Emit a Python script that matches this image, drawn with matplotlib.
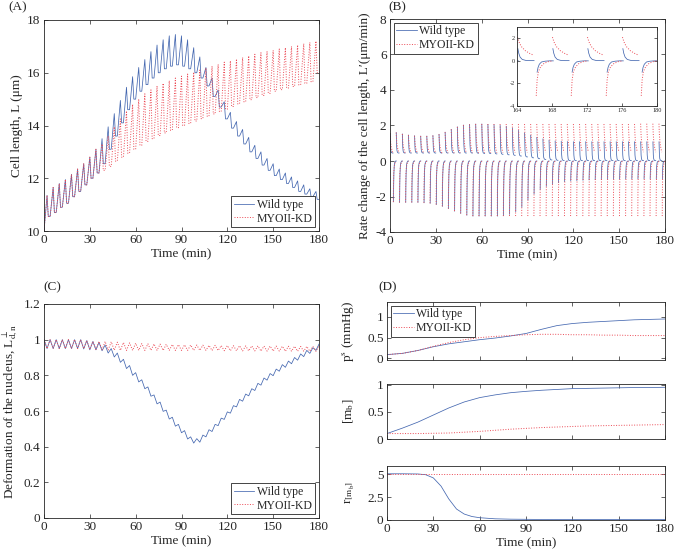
import numpy as np
import matplotlib
matplotlib.use("Agg")
import matplotlib.pyplot as plt
from matplotlib.ticker import FuncFormatter

plt.rcParams['font.family'] = ['Liberation Serif', 'DejaVu Serif']
plt.rcParams['mathtext.fontset'] = 'stix'
plt.rcParams['axes.linewidth'] = 0.6
plt.rcParams['axes.edgecolor'] = '#262626'
plt.rcParams['xtick.color'] = '#262626'
plt.rcParams['ytick.color'] = '#262626'
plt.rcParams['text.color'] = '#262626'
plt.rcParams['axes.labelcolor'] = '#262626'

# ------------------------------------------------------------------ data
period = 4.0            # oscillation period (min)
series_names = ["Wild type", "MYOII-KD"]

# (A) cell length L (um): troughs at t = 0,4,...,180 ; peaks at t = 2,6,...,178
len_wt_trough = [10.0, 10.55, 10.7, 10.9, 11.05, 11.3, 11.5, 11.75, 12.0, 12.2,
                 12.55, 13.1, 13.6, 14.1, 14.6, 15.0, 15.3, 15.55, 15.8, 16.0,
                 16.15, 16.25, 16.3, 16.25, 16.15, 16.0, 15.8, 15.5, 15.1, 14.7,
                 14.25, 13.9, 13.6, 13.3, 13.0, 12.75, 12.5, 12.3, 12.1, 11.95,
                 11.8, 11.65, 11.5, 11.4, 11.3, 11.2]
len_wt_peak = [11.35, 11.65, 11.8, 11.95, 12.15, 12.35, 12.55, 12.8, 13.1, 13.5,
               13.95, 14.45, 14.95, 15.45, 15.85, 16.2, 16.5, 16.8, 17.05, 17.25,
               17.4, 17.45, 17.4, 17.25, 16.95, 16.6, 16.2, 15.8, 15.35, 14.9,
               14.5, 14.15, 13.85, 13.55, 13.25, 13.0, 12.75, 12.55, 12.35, 12.2,
               12.05, 11.9, 11.75, 11.6, 11.5]
len_kd_trough = [10.0, 10.55, 10.7, 10.9, 11.05, 11.3, 11.5, 11.75, 12.0, 12.2,
                 12.3, 12.45, 12.65, 12.8, 12.95, 13.1, 13.25, 13.4, 13.5, 13.62,
                 13.72, 13.82, 13.92, 14.0, 14.08, 14.17, 14.26, 14.35, 14.44, 14.53,
                 14.62, 14.72, 14.82, 14.9, 14.98, 15.06, 15.14, 15.22, 15.3, 15.36,
                 15.42, 15.48, 15.54, 15.6, 15.66, 16.0]
len_kd_peak = [11.35, 11.65, 11.8, 11.95, 12.15, 12.35, 12.55, 12.8, 13.1, 13.3,
               13.6, 13.95, 14.25, 14.55, 14.8, 15.0, 15.2, 15.35, 15.5, 15.6,
               15.7, 15.8, 15.87, 15.95, 16.02, 16.1, 16.18, 16.25, 16.32, 16.4,
               16.45, 16.52, 16.58, 16.64, 16.7, 16.76, 16.8, 16.85, 16.9, 16.95,
               17.0, 17.05, 17.1, 17.15, 17.2]

# (B) rate of change L' (um/min), one value per cycle (cycles start at t = 0,4,...,176)
rate_wt_pos_peak = [1.55, 1.6, 1.52, 1.46, 1.42, 1.4, 1.4, 1.43, 1.5, 1.62,
                    1.78, 1.92, 2.02, 2.06, 2.08, 2.08, 2.06, 2.04, 2.0, 1.95,
                    1.85, 1.72, 1.58, 1.45, 1.33, 1.24, 1.17, 1.12, 1.1, 1.09,
                    1.08, 1.08, 1.08, 1.08, 1.08, 1.08, 1.08, 1.08, 1.08, 1.08,
                    1.08, 1.08, 1.08, 1.08, 1.08]
rate_wt_pos_end = [0.45, 0.45, 0.45, 0.45, 0.45, 0.45, 0.45, 0.45, 0.45, 0.45,
                   0.45, 0.45, 0.45, 0.45, 0.44, 0.43, 0.42, 0.4, 0.38, 0.35,
                   0.32, 0.28, 0.23, 0.18, 0.13, 0.09, 0.06, 0.04, 0.03, 0.02,
                   0.02, 0.02, 0.02, 0.02, 0.02, 0.02, 0.02, 0.02, 0.02, 0.02,
                   0.02, 0.02, 0.02, 0.02, 0.02]
rate_wt_neg_peak = [-2.3, -2.33, -2.33, -2.33, -2.33, -2.35, -2.38, -2.45, -2.55, -2.68,
                    -2.82, -2.95, -3.05, -3.1, -3.1, -3.1, -3.1, -3.1, -3.08, -3.0,
                    -2.85, -2.6, -2.2, -1.85, -1.6, -1.42, -1.3, -1.22, -1.16, -1.12,
                    -1.1, -1.08, -1.06, -1.05, -1.04, -1.03, -1.02, -1.02, -1.01, -1.01,
                    -1.0, -1.0, -1.0, -1.0, -1.0]
rate_kd_pos_peak = [1.55, 1.6, 1.52, 1.46, 1.42, 1.4, 1.4, 1.43, 1.5, 1.62,
                    1.78, 1.92, 2.02, 2.06, 2.08, 2.08, 2.08, 2.08, 2.08, 2.08,
                    2.08, 2.08, 2.08, 2.08, 2.08, 2.08, 2.08, 2.08, 2.08, 2.08,
                    2.08, 2.08, 2.08, 2.08, 2.08, 2.08, 2.08, 2.08, 2.08, 2.08,
                    2.08, 2.1, 2.1, 2.1, 2.1]
rate_kd_pos_end = [0.45, 0.45, 0.45, 0.45, 0.45, 0.45, 0.45, 0.45, 0.45, 0.45,
                   0.45, 0.45, 0.45, 0.45, 0.45, 0.46, 0.46, 0.46, 0.47, 0.47,
                   0.47, 0.48, 0.48, 0.48, 0.48, 0.49, 0.49, 0.49, 0.49, 0.5,
                   0.5, 0.5, 0.5, 0.5, 0.5, 0.5, 0.5, 0.5, 0.5, 0.5,
                   0.5, 0.5, 0.5, 0.5, 0.5]
rate_kd_neg_peak = [-2.3, -2.33, -2.33, -2.33, -2.33, -2.35, -2.38, -2.45, -2.55, -2.68,
                    -2.82, -2.95, -3.05, -3.1, -3.1, -3.1, -3.1, -3.1, -3.1, -3.1,
                    -3.1, -3.1, -3.1, -3.1, -3.1, -3.1, -3.1, -3.1, -3.1, -3.1,
                    -3.1, -3.1, -3.1, -3.1, -3.1, -3.1, -3.1, -3.1, -3.1, -3.1,
                    -3.1, -3.1, -3.1, -3.1, -3.1]
rate_neg_end = 0.0
# decay profile inside a half cycle: time offsets (min) and
# remaining fraction of the jump
seg_dt = [0.0, 0.1, 0.25, 0.5, 0.9, 1.4, 1.85]
frac_wt_pos = [1.0, 0.62, 0.3, 0.1, 0.02, 0.0, 0.0]
frac_kd_pos = [1.0, 0.85, 0.65, 0.45, 0.25, 0.1, 0.0]
frac_wt_neg = [1.0, 0.6, 0.3, 0.1, 0.03, 0.0, 0.0]
frac_kd_neg = [1.0, 0.55, 0.3, 0.17, 0.07, 0.02, 0.0]

# (C) nucleus deformation: highs at t = 0,4,...,180 ; lows at t = 2,6,...,178
def_wt_high = [1.0, 1.0, 1.0, 1.0, 1.0, 1.0, 1.0, 0.995, 0.99, 0.985,
               0.97, 0.95, 0.925, 0.89, 0.855, 0.815, 0.775, 0.735, 0.69, 0.65,
               0.605, 0.565, 0.525, 0.49, 0.455, 0.445, 0.465, 0.495, 0.525, 0.56,
               0.595, 0.63, 0.665, 0.695, 0.725, 0.755, 0.785, 0.81, 0.835, 0.86,
               0.88, 0.9, 0.92, 0.94, 0.955, 0.975]
def_wt_low = [0.95, 0.95, 0.95, 0.95, 0.95, 0.95, 0.948, 0.943, 0.943, 0.938,
              0.925, 0.903, 0.873, 0.838, 0.80, 0.763, 0.725, 0.683, 0.64, 0.598,
              0.555, 0.515, 0.478, 0.443, 0.42, 0.425, 0.455, 0.485, 0.518, 0.553,
              0.588, 0.623, 0.655, 0.685, 0.715, 0.745, 0.773, 0.798, 0.823, 0.845,
              0.865, 0.885, 0.905, 0.923, 0.94]
def_kd_high = [1.0, 1.0, 1.0, 1.0, 1.0, 1.0, 1.0, 0.995, 0.99, 0.99,
               0.99, 0.988, 0.986, 0.984, 0.982, 0.98, 0.978, 0.977, 0.976, 0.975,
               0.974, 0.973, 0.972, 0.971, 0.97, 0.97, 0.969, 0.968, 0.968, 0.967,
               0.967, 0.966, 0.966, 0.965, 0.965, 0.965, 0.964, 0.964, 0.964, 0.963,
               0.963, 0.963, 0.962, 0.962, 0.962, 0.962]
def_kd_low = [0.95, 0.95, 0.95, 0.95, 0.95, 0.95, 0.95, 0.945, 0.945, 0.943,
              0.942, 0.941, 0.94, 0.94, 0.94, 0.94, 0.94, 0.94, 0.94, 0.94,
              0.94, 0.94, 0.94, 0.94, 0.94, 0.94, 0.94, 0.939, 0.939, 0.938,
              0.938, 0.938, 0.937, 0.937, 0.937, 0.936, 0.936, 0.936, 0.936, 0.935,
              0.935, 0.935, 0.935, 0.935, 0.935]

# (D) slowly varying quantities
t_d = [0, 10, 20, 30, 40, 50, 60, 70, 80, 90, 100, 110, 120, 130, 140, 150, 160, 170, 180]
ps_wt = [0.09, 0.12, 0.19, 0.28, 0.35, 0.40, 0.45, 0.49, 0.54, 0.60,
         0.70, 0.79, 0.84, 0.87, 0.89, 0.91, 0.93, 0.94, 0.95]
ps_kd = [0.09, 0.12, 0.19, 0.29, 0.38, 0.45, 0.50, 0.53, 0.55, 0.57,
         0.58, 0.58, 0.57, 0.57, 0.56, 0.56, 0.55, 0.55, 0.55]
mb_wt = [0.1, 0.2, 0.31, 0.44, 0.57, 0.68, 0.76, 0.81, 0.85, 0.875,
         0.895, 0.91, 0.925, 0.93, 0.935, 0.94, 0.945, 0.945, 0.95]
mb_kd = [0.1, 0.1, 0.1, 0.105, 0.11, 0.125, 0.14, 0.16, 0.18, 0.195,
         0.21, 0.22, 0.23, 0.24, 0.245, 0.25, 0.255, 0.26, 0.265]
t_r = [0, 10, 20, 25, 30, 35, 40, 45, 50, 55, 60, 70, 80, 100, 120, 150, 180]
r_wt = [5.05, 5.05, 5.03, 4.95, 4.6, 3.7, 2.3, 1.2, 0.65, 0.38,
        0.25, 0.13, 0.09, 0.06, 0.05, 0.05, 0.05]
r_kd = [5.05, 5.05, 5.05, 5.05, 5.05, 5.05, 5.05, 5.05, 5.05, 5.05,
        5.05, 5.05, 5.05, 5.05, 5.05, 5.05, 5.05]

# ------------------------------------------------------------------ helpers
C_WT = '#4467b0'
C_KD = '#eb4a55'
LW_WT = 0.55
LW_KD = 0.7
FS = 9.5
FS_LEG = 8.5


def sawtooth(trough, peak):
    t, y = [], []
    for k in range(len(peak)):
        t0 = k * period
        t += [t0, t0 + period / 2, t0 + 0.7 * period]
        y += [trough[k], peak[k], trough[k + 1]]
    t.append(len(peak) * period)
    y.append(trough[-1])
    return np.array(t), np.array(y)


def zigzag(high, low):
    t, y = [], []
    for k in range(len(low)):
        t += [k * period, k * period + period / 2]
        y += [high[k], low[k]]
    t.append(len(low) * period)
    y.append(high[-1])
    return np.array(t), np.array(y)


def spikes(pos_peak, pos_end, neg_peak, fpos, fneg, shift_pos, shift_neg):
    t, y = [], []
    for k in range(len(pos_peak)):
        t0 = k * period
        for dt, f in zip(seg_dt, fpos):
            t.append(t0 + shift_pos + dt)
            y.append(pos_end[k] + (pos_peak[k] - pos_end[k]) * f)
        t.append(np.nan); y.append(np.nan)
        for dt, f in zip(seg_dt, fneg):
            t.append(t0 + period / 2 + shift_neg + dt)
            y.append(rate_neg_end + (neg_peak[k] - rate_neg_end) * f)
        t.append(np.nan); y.append(np.nan)
    return np.array(t), np.array(y)


def gfmt(v, pos):
    return '%g' % v


def style(ax, fs=FS, length=3):
    ax.tick_params(direction='in', top=True, right=True, labelsize=fs,
                   length=length, width=0.5, pad=2.5)
    ax.yaxis.set_major_formatter(FuncFormatter(gfmt))
    ax.xaxis.set_major_formatter(FuncFormatter(gfmt))


def legend(ax, loc, fs=FS_LEG):
    lg = ax.legend(loc=loc, fontsize=fs, frameon=True, fancybox=False,
                   edgecolor='#262626', framealpha=1, borderpad=0.25,
                   labelspacing=0.15, handlelength=1.7, handletextpad=0.2,
                   borderaxespad=0.3)
    lg.get_frame().set_linewidth(0.6)
    return lg


W, H = 676, 555
fig = plt.figure(figsize=(W / 100, H / 100), dpi=100)


def axes_px(l, t, r, b):
    return fig.add_axes([l / W, 1 - b / H, (r - l) / W, (b - t) / H])


xt = [0, 30, 60, 90, 120, 150, 180]

# ---------------- (A)
axA = axes_px(44, 20, 319, 231)
tA, yA = sawtooth(len_wt_trough, len_wt_peak)
axA.plot(tA, yA, color=C_WT, lw=LW_WT, label=series_names[0])
tA2, yA2 = sawtooth(len_kd_trough, len_kd_peak)
axA.plot(tA2, yA2, color=C_KD, lw=LW_KD, ls=':', label=series_names[1])
axA.set_xlim(0, 180); axA.set_ylim(10, 18)
axA.set_xticks(xt); axA.set_yticks([10, 12, 14, 16, 18])
style(axA)
axA.set_xlabel('Time (min)', fontsize=FS, labelpad=1)
axA.set_ylabel('Cell length, L (\u03bcm)', fontsize=FS, labelpad=3)
legend(axA, 'lower right')
fig.text(8 / W, 1 - 7 / H, '(A)', fontsize=FS, va='center', ha='left')

# ---------------- (B)
axB = axes_px(390, 19, 665, 232)
tB, yB = spikes(rate_wt_pos_peak, rate_wt_pos_end, rate_wt_neg_peak,
                frac_wt_pos, frac_wt_neg, 0.1, 0.3)
tB2, yB2 = spikes(rate_kd_pos_peak, rate_kd_pos_end, rate_kd_neg_peak,
                  frac_kd_pos, frac_kd_neg, 0.05, 0.2)
axB.plot(tB, yB, color=C_WT, lw=LW_WT, label=series_names[0])
axB.plot(tB2, yB2, color=C_KD, lw=LW_KD, ls=':', label=series_names[1])
axB.set_xlim(0, 180); axB.set_ylim(-4, 8)
axB.set_xticks(xt); axB.set_yticks([-4, -2, 0, 2, 4, 6, 8])
style(axB)
axB.set_xlabel('Time (min)', fontsize=FS, labelpad=1)
axB.set_ylabel('Rate change of the cell length, L\u2032(\u03bcm/min)', fontsize=FS, labelpad=3)
legend(axB, 'upper left')
fig.text(388 / W, 1 - 7 / H, '(B)', fontsize=FS, va='center', ha='left')

# inset
axI = axes_px(517, 27, 657, 106)
axI.plot(tB, yB, color=C_WT, lw=LW_WT)
axI.plot(tB2, yB2, color=C_KD, lw=LW_KD, ls=':')
axI.set_xlim(164, 180); axI.set_ylim(-4, 3)
axI.set_xticks([164, 168, 172, 176, 180]); axI.set_yticks([-4, -2, 0, 2])
style(axI, fs=4.5, length=2)
axI.tick_params(pad=1.5)

# ---------------- (C)
axC = axes_px(44, 304, 319, 518)
tC, yC = zigzag(def_wt_high, def_wt_low)
axC.plot(tC, yC, color=C_WT, lw=LW_WT, label=series_names[0])
tC2, yC2 = zigzag(def_kd_high, def_kd_low)
axC.plot(tC2, yC2, color=C_KD, lw=LW_KD, ls=':', label=series_names[1])
axC.set_xlim(0, 180); axC.set_ylim(0, 1.2)
axC.set_xticks(xt); axC.set_yticks([0, 0.2, 0.4, 0.6, 0.8, 1.0, 1.2])
style(axC)
axC.set_xlabel('Time (min)', fontsize=FS, labelpad=1)
axC.set_ylabel('Deformation of the nucleus, L$^{\\perp}_{\\mathrm{d,n}}$', fontsize=FS, labelpad=3)
legend(axC, 'lower right')
fig.text(43 / W, 1 - 287 / H, '(C)', fontsize=FS, va='center', ha='left')

# ---------------- (D)
axD1 = axes_px(387, 302, 665, 360)
axD1.plot(t_d, ps_wt, color=C_WT, lw=LW_WT, label=series_names[0])
axD1.plot(t_d, ps_kd, color=C_KD, lw=LW_KD, ls=':', label=series_names[1])
axD1.set_xlim(0, 180); axD1.set_ylim(-0.04, 1.36)
axD1.set_xticks(xt); axD1.set_yticks([0, 0.5, 1])
style(axD1)
axD1.tick_params(labelbottom=False)
axD1.set_ylabel('p$^{\\mathrm{s}}$ (mmHg)', fontsize=FS, labelpad=3)
legend(axD1, 'upper left')

axD2 = axes_px(387, 384, 665, 439)
axD2.plot(t_d, mb_wt, color=C_WT, lw=LW_WT)
axD2.plot(t_d, mb_kd, color=C_KD, lw=LW_KD, ls=':')
axD2.set_xlim(0, 180); axD2.set_ylim(0, 1.01)
axD2.set_xticks(xt); axD2.set_yticks([0, 0.5, 1])
style(axD2)
axD2.tick_params(labelbottom=False)
axD2.set_ylabel('[m$_{\\mathrm{b}}$]', fontsize=FS, labelpad=3)

axD3 = axes_px(387, 466, 665, 520)
axD3.plot(t_r, r_wt, color=C_WT, lw=LW_WT)
axD3.plot(t_r, r_kd, color=C_KD, lw=LW_KD, ls=':')
axD3.set_xlim(0, 180); axD3.set_ylim(0, 5.9)
axD3.set_xticks(xt); axD3.set_yticks([0, 2.5, 5])
style(axD3)
axD3.set_xlabel('Time (min)', fontsize=FS, labelpad=1)
axD3.set_ylabel('r$_{[\\mathrm{m_b}]}$', fontsize=FS, labelpad=3)
fig.text(378 / W, 1 - 287 / H, '(D)', fontsize=FS, va='center', ha='left')

# align D y-labels
for a in (axD1, axD2, axD3):
    a.yaxis.set_label_coords(-0.11, 0.5)

fig.savefig('out.png', dpi=100)
